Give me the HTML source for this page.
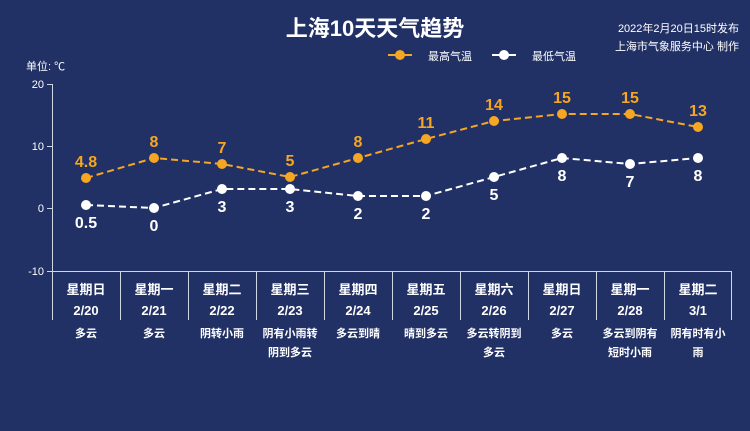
<!DOCTYPE html><html><head><meta charset="utf-8"><style>
body{margin:0;width:750px;height:426px;background:#223165;overflow:hidden}
text{font-family:"Liberation Sans","Noto Sans CJK SC",sans-serif}
</style></head><body>
<svg width="750" height="426" xmlns="http://www.w3.org/2000/svg">
<rect width="750" height="426" fill="#223165"/>
<text x="375" y="36" fill="#fff" font-size="22" font-weight="bold" text-anchor="middle">上海10天天气趋势</text>
<text x="739" y="32" fill="#fff" font-size="11" text-anchor="end">2022年2月20日15时发布</text>
<text x="739" y="50" fill="#fff" font-size="11" text-anchor="end">上海市气象服务中心 制作</text>
<line x1="388" y1="55" x2="412" y2="55" stroke="#f5a623" stroke-width="2"/><circle cx="400" cy="55" r="5" fill="#f5a623"/>
<text x="428" y="60" fill="#fff" font-size="11">最高气温</text>
<line x1="492" y1="55" x2="516" y2="55" stroke="#fff" stroke-width="2"/><circle cx="504" cy="55" r="5" fill="#fff"/>
<text x="532" y="60" fill="#fff" font-size="11">最低气温</text>
<text x="26" y="70" fill="#fff" font-size="11">单位: ℃</text>
<g fill="#fff" font-size="11" text-anchor="end">
<text x="44" y="88">20</text><text x="44" y="150">10</text><text x="44" y="212">0</text><text x="44" y="275">-10</text></g>
<g stroke="#cfd6e6" stroke-width="1">
<line x1="52.5" y1="84" x2="52.5" y2="320"/><line x1="52" y1="271.5" x2="732" y2="271.5"/>
<line x1="47" y1="84.5" x2="52" y2="84.5"/><line x1="47" y1="146.5" x2="52" y2="146.5"/><line x1="47" y1="208.5" x2="52" y2="208.5"/><line x1="47" y1="271.5" x2="52" y2="271.5"/>
<line x1="120.5" y1="271" x2="120.5" y2="320"/><line x1="188.5" y1="271" x2="188.5" y2="320"/><line x1="256.5" y1="271" x2="256.5" y2="320"/><line x1="324.5" y1="271" x2="324.5" y2="320"/><line x1="392.5" y1="271" x2="392.5" y2="320"/><line x1="460.5" y1="271" x2="460.5" y2="320"/><line x1="528.5" y1="271" x2="528.5" y2="320"/><line x1="596.5" y1="271" x2="596.5" y2="320"/><line x1="664.5" y1="271" x2="664.5" y2="320"/><line x1="731.5" y1="271" x2="731.5" y2="320"/>
</g>
<polyline fill="none" stroke="#f5a623" stroke-width="2" stroke-dasharray="7,4" points="86,178 154,158 222,164 290,177 358,158 426,139 494,121 562,114 630,114 698,127"/>
<polyline fill="none" stroke="#fff" stroke-width="2" stroke-dasharray="7,4" points="86,205 154,208 222,189 290,189 358,196 426,196 494,177 562,158 630,164 698,158"/>
<g fill="#f5a623"><circle cx="86" cy="178" r="5"/><circle cx="154" cy="158" r="5"/><circle cx="222" cy="164" r="5"/><circle cx="290" cy="177" r="5"/><circle cx="358" cy="158" r="5"/><circle cx="426" cy="139" r="5"/><circle cx="494" cy="121" r="5"/><circle cx="562" cy="114" r="5"/><circle cx="630" cy="114" r="5"/><circle cx="698" cy="127" r="5"/></g>
<g fill="#fff"><circle cx="86" cy="205" r="5"/><circle cx="154" cy="208" r="5"/><circle cx="222" cy="189" r="5"/><circle cx="290" cy="189" r="5"/><circle cx="358" cy="196" r="5"/><circle cx="426" cy="196" r="5"/><circle cx="494" cy="177" r="5"/><circle cx="562" cy="158" r="5"/><circle cx="630" cy="164" r="5"/><circle cx="698" cy="158" r="5"/></g>
<g fill="#f5a623" font-size="16" font-weight="bold" text-anchor="middle">
<text x="86" y="167">4.8</text><text x="154" y="147">8</text><text x="222" y="153">7</text><text x="290" y="166">5</text><text x="358" y="147">8</text><text x="426" y="128">11</text><text x="494" y="110">14</text><text x="562" y="103">15</text><text x="630" y="103">15</text><text x="698" y="116">13</text></g>
<g fill="#fff" font-size="16" font-weight="bold" text-anchor="middle">
<text x="86" y="228">0.5</text><text x="154" y="231">0</text><text x="222" y="212">3</text><text x="290" y="212">3</text><text x="358" y="219">2</text><text x="426" y="219">2</text><text x="494" y="200">5</text><text x="562" y="181">8</text><text x="630" y="187">7</text><text x="698" y="181">8</text></g>
<g fill="#fff" font-size="13" font-weight="bold" text-anchor="middle">
<text x="86" y="294">星期日</text><text x="154" y="294">星期一</text><text x="222" y="294">星期二</text><text x="290" y="294">星期三</text><text x="358" y="294">星期四</text><text x="426" y="294">星期五</text><text x="494" y="294">星期六</text><text x="562" y="294">星期日</text><text x="630" y="294">星期一</text><text x="698" y="294">星期二</text>
<text x="86" y="315">2/20</text><text x="154" y="315">2/21</text><text x="222" y="315">2/22</text><text x="290" y="315">2/23</text><text x="358" y="315">2/24</text><text x="426" y="315">2/25</text><text x="494" y="315">2/26</text><text x="562" y="315">2/27</text><text x="630" y="315">2/28</text><text x="698" y="315">3/1</text></g>
<g fill="#fff" font-size="11" font-weight="bold" text-anchor="middle">
<text x="86" y="337">多云</text><text x="154" y="337">多云</text><text x="222" y="337">阴转小雨</text><text x="290" y="337">阴有小雨转</text><text x="290" y="356">阴到多云</text><text x="358" y="337">多云到晴</text><text x="426" y="337">晴到多云</text><text x="494" y="337">多云转阴到</text><text x="494" y="356">多云</text><text x="562" y="337">多云</text><text x="630" y="337">多云到阴有</text><text x="630" y="356">短时小雨</text><text x="698" y="337">阴有时有小</text><text x="698" y="356">雨</text></g>
</svg></body></html>
